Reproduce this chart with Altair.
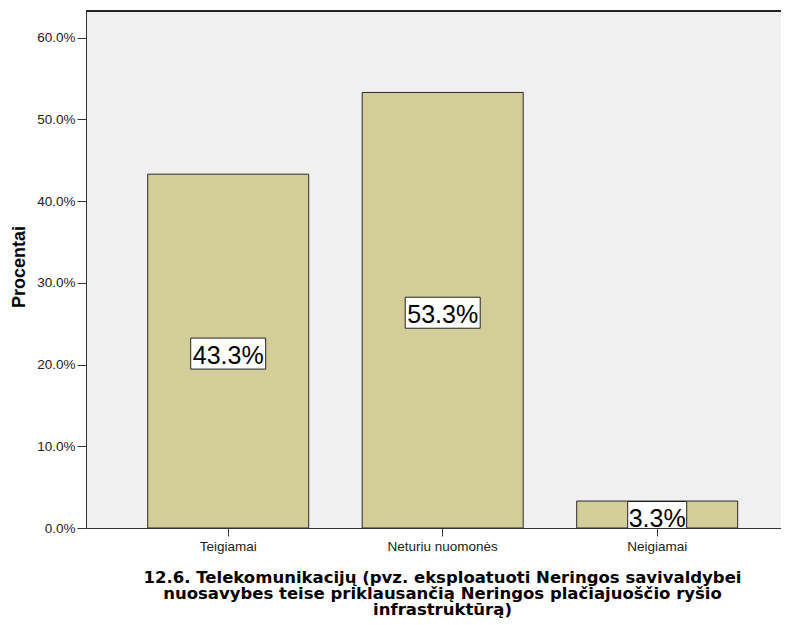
import altair as alt
import pandas as pd

categories = ["Teigiamai", "Neturiu nuomonės", "Neigiamai"]
percents = [43.3, 53.3, 3.3]
labels = ["43.3%", "53.3%", "3.3%"]
y_ticks = [0, 10, 20, 30, 40, 50, 60]
x_title = [
    "12.6. Telekomunikacijų (pvz. eksploatuoti Neringos savivaldybei",
    "nuosavybes teise priklausančią Neringos plačiajuoščio ryšio",
    "infrastruktūrą)",
]
y_title = "Procentai"

df = pd.DataFrame({"cat": categories, "pct": percents, "label": labels})

FONT = "Liberation Sans, Arial"
TITLE_FONT = "DejaVu Sans"
W = 695
H = 517

x_enc = alt.X(
    "cat:N",
    sort=categories,
    scale=alt.Scale(paddingInner=0.2494, paddingOuter=0.2448, align=0.5876),
    axis=alt.Axis(
        title=x_title,
        labelAngle=0,
        labelFont=FONT,
        labelFontSize=13.5,
        labelColor="#222",
        labelPadding=3,
        tickSize=8,
        tickColor="#333",
        domainColor="#333",
        titleFont=TITLE_FONT,
        titleFontSize=16.5,
        titleFontWeight="bold",
        titleColor="#000",
        titleLineHeight=16,
        titleBaseline="alphabetic",
        titleAlign="center",
        titleX=356,
        titleY=54,
        zindex=1,
    ),
)

y_scale = alt.Scale(domain=[0, 63.27], nice=False, zero=True)

bars = alt.Chart(df).mark_bar(
    color="#d3ce99", stroke="#2a2a2a", strokeWidth=1
).encode(
    x=x_enc,
    y=alt.Y(
        "pct:Q",
        scale=y_scale,
        axis=alt.Axis(
            title=y_title,
            values=y_ticks,
            labelExpr="format(datum.value, '.1f') + '%'",
            labelFont=FONT,
            labelFontSize=13.5,
            labelColor="#222",
            labelPadding=2,
            tickSize=9,
            tickColor="#333",
            domainColor="#333",
            grid=False,
            titleFont=FONT,
            titleFontSize=18,
            titleFontWeight="bold",
            titleColor="#000",
            titleAngle=-90,
            titleBaseline="alphabetic",
            titleAlign="center",
            titleX=-62,
            titleY=255.5,
            zindex=1,
        ),
    ),
)

top_line = alt.Chart(df).mark_rule(color="#222", strokeWidth=1.5).encode(
    x=alt.value(0), x2=alt.value(W), y=alt.value(0)
)

base = alt.Chart(df).transform_calculate(
    mid="datum.pct / 2",
    w="16 * length(datum.label) - 5",
).transform_calculate(
    hh="15.5 / (datum.w / 2)",
    sz="datum.w * datum.w",
).transform_calculate(
    shp="'M-1,' + (-datum.hh) + 'L1,' + (-datum.hh) + 'L1,' + datum.hh + 'L-1,' + datum.hh + 'Z'"
)

boxes = base.mark_point(
    filled=True, fill="white", stroke="#222", strokeWidth=1, opacity=1, clip=True, yOffset=2.5
).encode(
    x=alt.X("cat:N", sort=categories),
    y=alt.Y("mid:Q", scale=y_scale),
    shape=alt.Shape("shp:N", scale=None),
    size=alt.Size("sz:Q", scale=None),
)

texts = base.mark_text(
    font=FONT, fontSize=25, color="#000", baseline="alphabetic", dy=12.5
).encode(
    x=alt.X("cat:N", sort=categories),
    y=alt.Y("mid:Q", scale=y_scale),
    text="label:N",
)

chart = alt.layer(bars, boxes, texts, top_line).properties(
    width=W,
    height=H,
    autosize=alt.AutoSizeParams(type="none"),
    padding={"left": 78, "top": 3, "right": 0, "bottom": 93},
    background="white",
).configure_view(
    fill="#f0f0f0", strokeWidth=0
)

chart.save("out.html", embed_options={"renderer": "svg", "actions": False})
